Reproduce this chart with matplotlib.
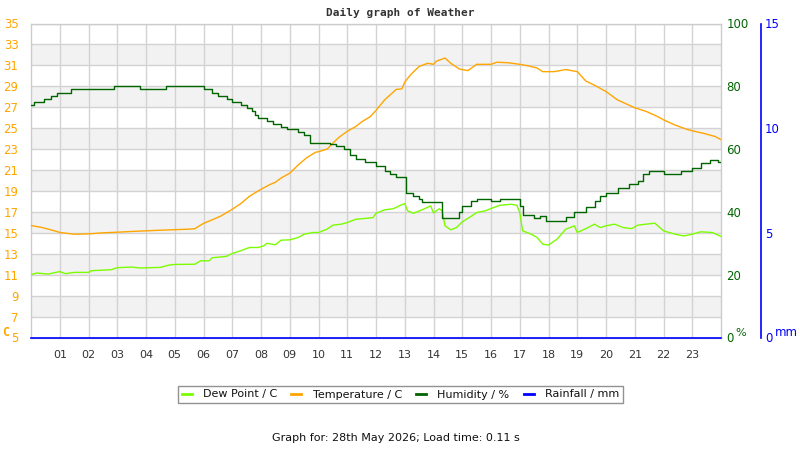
import matplotlib
matplotlib.use("Agg")
import matplotlib.pyplot as plt
from matplotlib.lines import Line2D

# ---- data ----
hour_labels = ["%02d" % h for h in range(1, 24)]

temp_hours = [0, 0.4, 0.6, 0.9, 1.0, 1.5, 2.0, 2.5, 3.0, 3.5, 4.0, 4.5, 5.0, 5.5, 5.7, 6.0, 6.3, 6.6,
              7.0, 7.3, 7.6, 8.0, 8.3, 8.5, 8.7, 9.0, 9.3, 9.6, 9.9, 10.0, 10.3, 10.5, 10.7, 11.0,
              11.3, 11.5, 11.8, 12.0, 12.3, 12.5, 12.7, 12.9, 13.0, 13.2, 13.5, 13.8, 14.0, 14.1,
              14.4, 14.6, 14.9, 15.2, 15.5, 16.0, 16.2, 16.6, 17.0, 17.3, 17.6, 17.8, 18.2, 18.6,
              19.0, 19.3, 19.6, 20.0, 20.4, 20.8, 21.0, 21.4, 21.8, 22.0, 22.4, 22.8, 23.0, 23.4,
              23.8, 24.0]
temp_values = [15.7, 15.5, 15.35, 15.13, 15.03, 14.87, 14.9, 15.0, 15.06, 15.13, 15.19, 15.25, 15.3,
               15.35, 15.4, 15.9, 16.24, 16.6, 17.25, 17.8, 18.5, 19.16, 19.6, 19.83, 20.24, 20.7,
               21.5, 22.2, 22.7, 22.75, 23.0, 23.57, 24.1, 24.7, 25.16, 25.6, 26.1, 26.7, 27.7, 28.2,
               28.7, 28.75, 29.4, 30.1, 30.9, 31.2, 31.1, 31.4, 31.7, 31.2, 30.65, 30.5, 31.1, 31.1,
               31.3, 31.25, 31.1, 30.95, 30.75, 30.4, 30.4, 30.6, 30.4, 29.5, 29.1, 28.5, 27.7, 27.2,
               26.95, 26.6, 26.1, 25.8, 25.3, 24.9, 24.75, 24.5, 24.2, 23.9]

dew_hours = [0, 0.2, 0.6, 1.0, 1.2, 1.5, 2.0, 2.1, 2.8, 3.0, 3.5, 3.8, 4.5, 4.8, 5.0, 5.7, 5.9, 6.2,
             6.3, 6.8, 7.0, 7.3, 7.6, 7.9, 8.1, 8.2, 8.5, 8.7, 9.0, 9.3, 9.5, 9.8, 10.0, 10.3, 10.5,
             10.8, 11.0, 11.3, 11.6, 11.9, 12.0, 12.3, 12.6, 12.8, 13.0, 13.1, 13.3, 13.6, 13.9,
             14.0, 14.2, 14.3, 14.4, 14.6, 14.8, 15.0, 15.3, 15.5, 15.8, 16.0, 16.3, 16.7, 16.9,
             17.0, 17.1, 17.4, 17.6, 17.8, 18.0, 18.3, 18.6, 18.9, 19.0, 19.3, 19.6, 19.8, 20.0,
             20.3, 20.6, 20.9, 21.1, 21.4, 21.7, 22.0, 22.4, 22.7, 23.0, 23.3, 23.7, 24.0]
dew_values = [11.0, 11.16, 11.06, 11.3, 11.1, 11.22, 11.22, 11.38, 11.48, 11.67, 11.73, 11.64, 11.7,
              11.92, 11.98, 12.0, 12.33, 12.33, 12.62, 12.75, 13.03, 13.29, 13.6, 13.6, 13.76, 14.0,
              13.86, 14.3, 14.33, 14.56, 14.87, 15.03, 15.03, 15.35, 15.73, 15.83, 15.98, 16.3,
              16.37, 16.46, 16.87, 17.2, 17.3, 17.57, 17.8, 17.1, 16.87, 17.2, 17.57, 16.9, 17.3,
              17.1, 15.67, 15.29, 15.5, 16.05, 16.56, 16.94, 17.1, 17.32, 17.63, 17.73, 17.63,
              16.94, 15.19, 14.87, 14.56, 13.92, 13.83, 14.4, 15.35, 15.67, 15.03, 15.4, 15.83,
              15.5, 15.67, 15.83, 15.5, 15.4, 15.73, 15.83, 15.92, 15.19, 14.87, 14.7, 14.87, 15.1,
              15.03, 14.65]

hum_hours = [0, 0.1, 0.45, 0.7, 0.9, 1.4, 2.9, 3.8, 4.7, 6.0, 6.3, 6.5, 6.8, 7.0, 7.3, 7.5, 7.7,
             7.8, 7.9, 8.2, 8.4, 8.7, 8.9, 9.3, 9.5, 9.7, 10.4, 10.6, 10.9, 11.1, 11.3, 11.6, 12.0,
             12.3, 12.5, 12.7, 13.05, 13.3, 13.5, 13.6, 14.3, 14.9, 15.0, 15.3, 15.5, 16.0, 16.3,
             17.0, 17.1, 17.5, 17.7, 17.9, 18.6, 18.9, 19.3, 19.6, 19.8, 20.0, 20.4, 20.8, 21.1,
             21.3, 21.5, 22.0, 22.6, 23.0, 23.3, 23.6, 23.9, 24.0]
hum_values = [74, 75, 76, 77, 78, 79, 80, 79, 80, 79, 78, 77, 76, 75, 74, 73, 72, 71, 70, 69, 68,
              67, 66.5, 65.5, 64.5, 62, 61.5, 61, 60, 58, 57, 56, 54.5, 53, 52, 51, 46, 45, 44, 43,
              38, 40, 42, 43.5, 44, 43.5, 44, 42, 39, 38, 38.7, 37, 38.5, 40, 41.5, 43.5, 45, 46,
              47.5, 49, 50, 52, 53, 52, 53, 54, 55.5, 56.5, 56, 56]

rain_hours = [0, 24]
rain_values = [0, 0]

temp_ticks = list(range(5, 36, 2))
hum_ticks = list(range(0, 101, 20))
rain_ticks = [0, 5, 10, 15]

# ---- styles ----
ORANGE = "#ffa500"
DEWC = "#7cfc00"
HUMC = "#006400"
RAINC = "#0000ff"
GRID = "#d3d3d3"

fig = plt.figure(figsize=(8, 4.5), dpi=100)
ax = fig.add_axes([31 / 800, 1 - 337.5 / 450, 690 / 800, 314 / 450])
ax.set_xlim(0, 24)
ax.set_ylim(5, 35)

# alternating bands
for lo in range(7, 35, 4):
    ax.axhspan(lo, lo + 2, color="#f2f2f2", zorder=0, lw=0)
for y in temp_ticks:
    ax.axhline(y, color=GRID, lw=1, zorder=0.5)
for h in range(1, 24):
    ax.axvline(h, color=GRID, lw=1, zorder=0.5)

ax.set_xticks(range(1, 24))
ax.set_xticklabels(hour_labels, color="#333333", fontsize=8)
ax.set_yticks(temp_ticks)
ax.set_yticklabels([str(v) for v in temp_ticks], color=ORANGE, fontsize=8.5)
ax.tick_params(axis="both", length=0)
ax.tick_params(axis="x", pad=9)
ax.tick_params(axis="y", pad=9)
for s in ax.spines.values():
    s.set_color("#cccccc")
    s.set_linewidth(1)

ax.plot(dew_hours, dew_values, color=DEWC, lw=1.0, zorder=3)
ax.plot(temp_hours, temp_values, color=ORANGE, lw=1.0, zorder=3)

ax2 = ax.twinx()
ax2.set_ylim(0, 100)
ax2.plot(hum_hours, hum_values, color=HUMC, lw=1.0, drawstyle="steps-post", zorder=4)
ax2.set_yticks(hum_ticks)
ax2.set_yticklabels([str(v) for v in hum_ticks], color=HUMC, fontsize=8.5)
ax2.tick_params(axis="y", length=0, pad=4)
for s in ax2.spines.values():
    s.set_visible(False)

ax3 = ax.twinx()
ax3.set_ylim(0, 15)
ax3.spines["right"].set_position(("axes", 730 / 690))
ax3.spines["right"].set_color(RAINC)
ax3.spines["right"].set_linewidth(1.2)
for k in ["left", "top", "bottom"]:
    ax3.spines[k].set_visible(False)
ax3.set_yticks(rain_ticks)
ax3.set_yticklabels([str(v) for v in rain_ticks], color=RAINC, fontsize=8.5)
ax3.tick_params(axis="y", length=0, pad=3)
ax3.plot(rain_hours, rain_values, color=RAINC, lw=1.2, zorder=5, clip_on=False)

# axis unit labels
fig.text(6 / 800, 1 - 333 / 450, "C", color=ORANGE, fontsize=8.5, fontweight="bold",
         family="DejaVu Sans Mono", ha="center", va="center")
fig.text(741 / 800, 1 - 333 / 450, "%", color=HUMC, fontsize=8, ha="center", va="center")
fig.text(786 / 800, 1 - 333 / 450, "mm", color=RAINC, fontsize=8.5, ha="center", va="center")

fig.text(400 / 800, 1 - 13 / 450, "Daily graph of Weather", color="#333333", fontsize=8,
         fontweight="bold", family="DejaVu Sans Mono", ha="center", va="center")

# legend
handles = [Line2D([], [], color=DEWC, lw=2), Line2D([], [], color=ORANGE, lw=2),
           Line2D([], [], color=HUMC, lw=2), Line2D([], [], color=RAINC, lw=2)]
labels = ["Dew Point / C", "Temperature / C", "Humidity / %", "Rainfall / mm"]
leg = fig.legend(handles, labels, loc="center", bbox_to_anchor=(400.5 / 800, 1 - 394.5 / 450),
                 ncol=4, fontsize=8, frameon=True, fancybox=False, handlelength=0.9,
                 handletextpad=1.0, columnspacing=1.3, borderpad=0.35, borderaxespad=0,
                 edgecolor="#777777")
leg.get_frame().set_linewidth(1)
for t in leg.get_texts():
    t.set_color("#111111")

fig.text(396 / 800, 1 - 438 / 450, "Graph for: 28th May 2026; Load time: 0.11 s", color="#111111",
         fontsize=8, ha="center", va="center")

fig.savefig("out.png", dpi=100)
